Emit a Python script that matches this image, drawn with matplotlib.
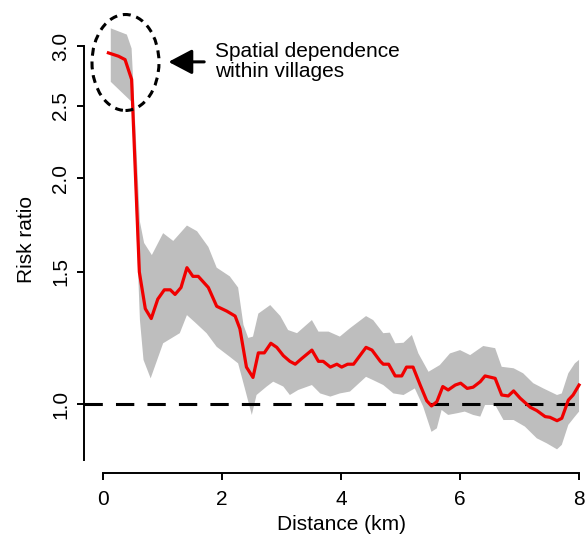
import numpy as np
import matplotlib
matplotlib.use("Agg")
import matplotlib.pyplot as plt
from matplotlib.patches import Ellipse

plt.rcParams['font.family'] = ['Liberation Sans', 'DejaVu Sans']

# risk ratio estimate (red line)
dist_km = [0.09, 0.26, 0.37, 0.48, 0.61, 0.71, 0.81, 0.92, 1.03, 1.13, 1.21, 1.31, 1.41, 1.51,
           1.60, 1.77, 1.91, 2.08, 2.22, 2.30, 2.41, 2.52, 2.61, 2.71, 2.82, 2.92, 3.03, 3.14,
           3.23, 3.34, 3.51, 3.62, 3.70, 3.82, 3.93, 4.01, 4.11, 4.21, 4.42, 4.52, 4.66, 4.71,
           4.80, 4.91, 5.02, 5.10, 5.21, 5.33, 5.44, 5.52, 5.61, 5.71, 5.80, 5.92, 6.01, 6.12,
           6.22, 6.34, 6.42, 6.59, 6.70, 6.81, 6.90, 7.01, 7.18, 7.29, 7.43, 7.51, 7.63, 7.71,
           7.82, 7.90, 8.00]
rr_est = [2.94, 2.91, 2.88, 2.71, 1.50, 1.34, 1.30, 1.38, 1.42, 1.42, 1.40, 1.43, 1.52, 1.48,
          1.48, 1.43, 1.35, 1.33, 1.31, 1.26, 1.12, 1.085, 1.17, 1.17, 1.205, 1.19, 1.16, 1.14,
          1.13, 1.15, 1.18, 1.14, 1.14, 1.12, 1.13, 1.12, 1.13, 1.13, 1.19, 1.18, 1.14, 1.13,
          1.13, 1.09, 1.09, 1.12, 1.12, 1.06, 1.01, 0.994, 1.007, 1.055, 1.044, 1.06, 1.066, 1.049,
          1.053, 1.071, 1.09, 1.082, 1.028, 1.025, 1.041, 1.018, 0.990, 0.980, 0.962, 0.960, 0.950, 0.957,
          1.012, 1.028, 1.06]

# upper confidence limit
upper_km = [0.13, 0.40, 0.48, 0.62, 0.69, 0.82, 1.01, 1.18, 1.41, 1.58, 1.77, 1.91, 2.13, 2.27,
            2.36, 2.44, 2.52, 2.61, 2.81, 2.98, 3.11, 3.26, 3.51, 3.62, 3.79, 3.98, 4.15, 4.42,
            4.54, 4.71, 4.82, 4.91, 5.05, 5.19, 5.30, 5.47, 5.66, 5.83, 6.00, 6.17, 6.39, 6.59,
            6.70, 6.90, 7.06, 7.23, 7.40, 7.63, 7.71, 7.82, 7.93, 8.00]
rr_upper = [3.17, 3.11, 2.98, 1.75, 1.64, 1.58, 1.69, 1.65, 1.73, 1.70, 1.62, 1.52, 1.48, 1.43,
            1.275, 1.225, 1.23, 1.32, 1.355, 1.31, 1.255, 1.243, 1.294, 1.249, 1.249, 1.23, 1.262, 1.31,
            1.294, 1.243, 1.245, 1.205, 1.207, 1.236, 1.168, 1.104, 1.127, 1.168, 1.18, 1.162, 1.195, 1.187,
            1.121, 1.116, 1.099, 1.066, 1.049, 1.028, 1.033, 1.099, 1.133, 1.145]

# lower confidence limit
lower_km = [0.13, 0.48, 0.62, 0.68, 0.80, 1.01, 1.29, 1.41, 1.55, 1.74, 1.91, 2.13, 2.27, 2.39,
            2.50, 2.58, 2.75, 2.86, 3.03, 3.14, 3.28, 3.51, 3.65, 3.82, 3.98, 4.15, 4.42, 4.54,
            4.71, 4.88, 5.05, 5.24, 5.38, 5.52, 5.61, 5.69, 5.80, 5.95, 6.08, 6.22, 6.34, 6.42,
            6.59, 6.73, 6.90, 7.09, 7.29, 7.46, 7.63, 7.71, 7.82, 7.93, 8.00]
rr_lower = [2.69, 2.53, 1.294, 1.145, 1.082, 1.205, 1.243, 1.314, 1.284, 1.243, 1.192, 1.156, 1.133, 1.044,
            0.967, 1.028, 1.055, 1.071, 1.055, 1.028, 1.044, 1.06, 1.033, 1.023, 1.033, 1.039, 1.087, 1.076,
            1.06, 1.033, 1.028, 1.049, 0.992, 0.918, 0.928, 0.982, 0.967, 0.972, 0.977, 0.967, 0.962, 0.997,
            0.997, 0.952, 0.952, 0.933, 0.900, 0.886, 0.870, 0.882, 0.938, 0.962, 0.977]

x_ticks = [0, 2, 4, 6, 8]
y_ticks = [1.0, 1.5, 2.0, 2.5, 3.0]
y_tick_labels = ["1.0", "1.5", "2.0", "2.5", "3.0"]

font_size = 15

fig = plt.figure(figsize=(5.85, 5.34), dpi=100)
ax = fig.add_axes([0.1436, 0.1386, 0.8564, 0.8427])

band_x = np.concatenate([upper_km, lower_km[::-1]])
band_y = np.concatenate([rr_upper, rr_lower[::-1]])
ax.fill(band_x, band_y, color='#bebebe', lw=0, zorder=1)

ax.axhline(1.0, color='black', lw=2.2, dashes=(6, 4.3), zorder=2)
ax.plot(dist_km, rr_est, color='#f00000', lw=2.3, zorder=3)

ax.set_yscale('log')
ax.set_xlim(-0.32, 8.10)
ax.set_ylim(0.842, 3.354)

ax.set_yticks(y_ticks)
ax.set_yticklabels(y_tick_labels, rotation=90, va='center')
ax.yaxis.set_minor_locator(matplotlib.ticker.NullLocator())
ax.set_xticks(x_ticks)

for side in ['top', 'right']:
    ax.spines[side].set_visible(False)
ax.spines['left'].set_bounds(0.842, 3.0)
ax.spines['bottom'].set_bounds(0, 8)
ax.spines['bottom'].set_position(('outward', 9.4))
for side in ['left', 'bottom']:
    ax.spines[side].set_linewidth(1.4)
ax.tick_params(axis='both', length=5, width=1.4, labelsize=font_size, pad=5)
ax.tick_params(axis='x', pad=7)

ax.set_xlabel("Distance (km)", fontsize=font_size, va='center')
ax.xaxis.set_label_coords(0.513, -0.143)
ax.set_ylabel("Risk ratio", fontsize=font_size, va='center')
ax.yaxis.set_label_coords(-0.115, 0.49)

# ring around the short-distance estimates
ring = Ellipse((0.0828, 0.8833), 0.1337, 0.2133, transform=ax.transAxes,
               fill=False, edgecolor='black', lw=2.2, linestyle=(0, (2.6, 1.9)), zorder=4)
ax.add_patch(ring)

ax.annotate('', xy=(1.10, 2.86), xytext=(1.70, 2.86),
            arrowprops=dict(arrowstyle='-|>,head_length=0.72,head_width=0.38',
                            mutation_scale=20, color='black', lw=2.2,
                            shrinkA=0, shrinkB=0))
ax.text(1.88, 2.86, "Spatial dependence\nwithin villages", fontsize=font_size,
        ha='left', va='center', linespacing=1.08)

fig.savefig("out.png", dpi=100)
